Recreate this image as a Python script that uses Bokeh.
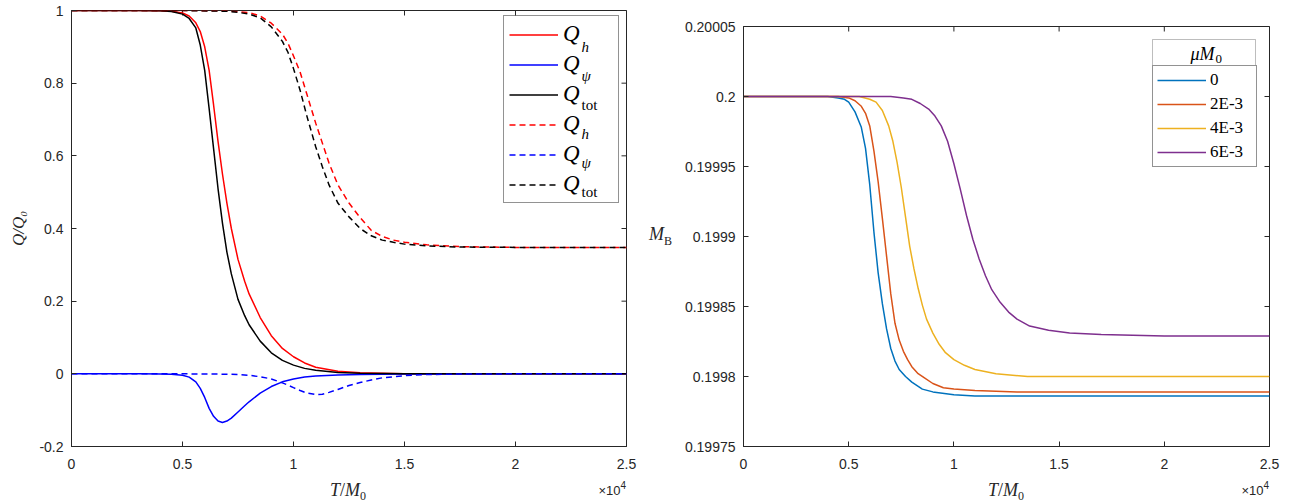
import math
from bokeh.plotting import figure
from bokeh.models import (Range1d, FixedTicker, CustomJSTickFormatter, Legend, LegendItem,
                          Label, BoxAnnotation, Div)
from bokeh.layouts import row, column
from bokeh.embed import file_html
from bokeh.resources import INLINE

# ---------------- data: left panel (Q / Q0 versus T / M0) ----------------
T_solid = [0, 3000, 4000, 4500, 5000, 5300, 5600, 5800, 6000, 6200, 6400, 6600, 6800, 7000,
           7200, 7500, 7800, 8000, 8500, 9000, 9500, 10000, 10500, 11000, 12000, 13000,
           15000, 20000, 25000]
Qh_solid = [1, 1, 0.999, 0.998, 0.993, 0.985, 0.966, 0.942, 0.90, 0.835, 0.74, 0.64, 0.55,
            0.47, 0.40, 0.315, 0.255, 0.22, 0.155, 0.105, 0.07, 0.047, 0.03, 0.018, 0.007,
            0.003, 0.0005, 0, 0]
Qpsi_solid = [0, 0, -0.0005, -0.001, -0.004, -0.009, -0.022, -0.04, -0.065, -0.095, -0.117,
              -0.13, -0.134, -0.13, -0.122, -0.105, -0.088, -0.077, -0.053, -0.035, -0.022,
              -0.014, -0.009, -0.006, -0.003, -0.0015, -0.0004, 0, 0]
Qtot_solid = [1, 1, 0.999, 0.997, 0.99, 0.978, 0.952, 0.905, 0.835, 0.73, 0.62, 0.51, 0.415,
              0.335, 0.275, 0.205, 0.16, 0.135, 0.09, 0.058, 0.037, 0.024, 0.015, 0.01, 0.004,
              0.0015, 0.0003, 0, 0]

T_dash = [0, 5000, 7000, 7500, 8000, 8500, 9000, 9500, 9750, 10000, 10300, 10600, 11000,
          11300, 11600, 12000, 12500, 13000, 13500, 14000, 14500, 15000, 16000, 17500,
          20000, 25000]
Qh_dash = [1, 1, 0.999, 0.997, 0.994, 0.985, 0.965, 0.935, 0.91, 0.875, 0.83, 0.77, 0.69,
           0.635, 0.58, 0.52, 0.47, 0.43, 0.395, 0.378, 0.368, 0.362, 0.355, 0.35, 0.348, 0.348]
Qpsi_dash = [0, 0, -0.001, -0.002, -0.004, -0.008, -0.014, -0.025, -0.031, -0.038, -0.046,
             -0.053, -0.057, -0.056, -0.051, -0.043, -0.032, -0.024, -0.017, -0.011, -0.008,
             -0.005, -0.002, -0.0005, 0, 0]
Qtot_dash = [1, 1, 0.998, 0.995, 0.99, 0.98, 0.955, 0.915, 0.885, 0.84, 0.78, 0.71, 0.625,
             0.57, 0.52, 0.47, 0.432, 0.40, 0.38, 0.368, 0.362, 0.357, 0.352, 0.349, 0.348, 0.348]

# ---------------- data: right panel (M_B versus T / M0) ----------------
T_mu0 = [0, 4000, 4500, 4800, 5000, 5300, 5600, 5800, 6000, 6200, 6400, 6600, 6800, 7000,
         7200, 7400, 7700, 8000, 8500, 9000, 10000, 11000, 13000, 25000]
MB_mu0 = [0.2, 0.2, 0.199999, 0.199998, 0.199996, 0.199989, 0.199978, 0.199963, 0.199937,
          0.199903, 0.199874, 0.199852, 0.199834, 0.19982, 0.199811, 0.199805, 0.1998,
          0.199796, 0.199791, 0.199789, 0.199787, 0.199786, 0.199786, 0.199786]
T_mu2 = [0, 4500, 5000, 5300, 5600, 5800, 6000, 6200, 6400, 6600, 6800, 7000, 7200, 7400,
         7600, 7800, 8000, 8300, 8600, 9000, 9500, 10000, 11000, 13000, 25000]
MB_mu2 = [0.2, 0.2, 0.199999, 0.199997, 0.199993, 0.199988, 0.199979, 0.199961, 0.199939,
          0.199913, 0.199886, 0.199859, 0.199838, 0.199826, 0.199818, 0.199812, 0.199807,
          0.199802, 0.199799, 0.199795, 0.199792, 0.199791, 0.19979, 0.199789, 0.199789]
T_mu4 = [0, 5000, 5500, 6000, 6300, 6600, 6900, 7100, 7300, 7500, 7700, 7900, 8100, 8300,
         8500, 8700, 9000, 9300, 9600, 10000, 10500, 11000, 12000, 13500, 25000]
MB_mu4 = [0.2, 0.2, 0.2, 0.199998, 0.199996, 0.19999, 0.199979, 0.199968, 0.199953,
          0.199935, 0.199914, 0.199893, 0.199877, 0.199863, 0.199851, 0.199841, 0.199831,
          0.199823, 0.199817, 0.199812, 0.199808, 0.199805, 0.199802, 0.1998, 0.1998]
T_mu6 = [0, 7000, 7600, 8000, 8400, 8800, 9100, 9400, 9700, 10000, 10300, 10600, 10900,
         11200, 11500, 11800, 12200, 12600, 13000, 13600, 14500, 15500, 17000, 20000, 25000]
MB_mu6 = [0.2, 0.2, 0.199999, 0.199998, 0.199995, 0.199991, 0.199986, 0.199979, 0.199968,
          0.199952, 0.199934, 0.199915, 0.199898, 0.199884, 0.199872, 0.199862, 0.199853,
          0.199846, 0.199841, 0.199836, 0.199833, 0.199831, 0.19983, 0.199829, 0.199829]
mu_labels = ["0", "2E-3", "4E-3", "6E-3"]
q_subscripts = ["h", "ψ", "tot", "h", "ψ", "tot"]

x_ticks = [0, 5000, 10000, 15000, 20000, 25000]
left_y_ticks = [-0.2, 0, 0.2, 0.4, 0.6, 0.8, 1]
right_y_ticks = [0.19975, 0.1998, 0.19985, 0.1999, 0.19995, 0.2, 0.20005]

AX = "#262626"
SANS = "Liberation Sans"
SERIF = "Liberation Serif"
TICK_SIZE = "14px"
LW = 1.5
DASH = "6 4"


def make_fig(fw, fh, left, right, top, bottom, y0, y1, y_ticks, y_code):
    p = figure(frame_width=fw, frame_height=fh, output_backend="svg", toolbar_location=None,
               x_range=Range1d(0, 25000), y_range=Range1d(y0, y1),
               min_border_left=left, min_border_right=right,
               min_border_top=top, min_border_bottom=bottom,
               background_fill_color="white", border_fill_color="white")
    p.grid.visible = False
    p.outline_line_color = AX
    p.outline_line_width = 1
    xa, ya = p.xaxis[0], p.yaxis[0]
    for ax in (xa, ya):
        ax.axis_line_color = AX
        ax.major_tick_line_color = AX
        ax.minor_tick_line_color = None
        ax.major_tick_in = 5
        ax.major_tick_out = 0
        ax.major_label_text_color = AX
        ax.major_label_text_font = SANS
        ax.major_label_text_font_size = TICK_SIZE
    xa.ticker = FixedTicker(ticks=x_ticks)
    xa.formatter = CustomJSTickFormatter(code="return (tick/10000).toString();")
    xa.major_label_standoff = 12
    ya.ticker = FixedTicker(ticks=y_ticks)
    ya.formatter = CustomJSTickFormatter(code=y_code)
    ya.major_label_standoff = 8
    # mirrored (box style) tick marks on the top and right edges, half clipped by the frame
    p.scatter(x_ticks, [y1] * len(x_ticks), marker="dash", angle=math.pi / 2, size=10,
              line_color=AX, line_width=1)
    p.scatter([25000] * len(y_ticks), y_ticks, marker="dash", size=10,
              line_color=AX, line_width=1)
    return p, xa, ya


# ---------------- left panel ----------------
p1, xa1, ya1 = make_fig(555, 436, 71, 14, 10, 32, -0.2, 1, left_y_ticks,
                        "return parseFloat(tick.toFixed(1)).toString();")
ya1.axis_label = "Q/Q₀"
ya1.axis_label_text_font = SERIF
ya1.axis_label_text_font_style = "italic"
ya1.axis_label_text_font_size = "17px"
ya1.axis_label_text_color = AX
ya1.axis_label_standoff = 8

r1 = p1.line(T_solid, Qh_solid, line_color="#FF0000", line_width=LW)
r2 = p1.line(T_solid, Qpsi_solid, line_color="#0000FF", line_width=LW)
r3 = p1.line(T_solid, Qtot_solid, line_color="#000000", line_width=LW)
r4 = p1.line(T_dash, Qh_dash, line_color="#FF0000", line_width=LW, line_dash=DASH)
r5 = p1.line(T_dash, Qpsi_dash, line_color="#0000FF", line_width=LW, line_dash=DASH)
r6 = p1.line(T_dash, Qtot_dash, line_color="#000000", line_width=LW, line_dash=DASH)

leg1 = Legend(items=[LegendItem(label="Q", renderers=[r]) for r in (r1, r2, r3, r4, r5, r6)],
              location=(432, 243), orientation="vertical", glyph_width=49, glyph_height=25,
              label_height=25, label_width=50, spacing=4, padding=5, margin=0,
              label_standoff=5, label_text_font=SERIF, label_text_font_style="italic",
              label_text_font_size="23px", label_text_color="black",
              label_text_baseline="middle", border_line_color=AX,
              border_line_width=1, background_fill_alpha=0)
p1.add_layout(leg1)

for i, s in enumerate(q_subscripts):
    yc = 446 - (40.5 + 29 * i)
    p1.add_layout(Label(x=510, y=yc - 6, x_units="screen", y_units="screen", text=s,
                        text_font=SERIF,
                        text_font_style="normal" if s == "tot" else "italic",
                        text_font_size="15px", text_baseline="middle", text_color="black",
                        level="overlay"))

# ---------------- right panel ----------------
p2, xa2, ya2 = make_fig(526, 420, 67, 33, 10, 32, 0.19975, 0.20005, right_y_ticks,
                        "return parseFloat(tick.toFixed(5)).toString();")
colors = ["#0072BD", "#D95319", "#EDB120", "#7E2F8E"]
rs = []
for ts, ys, c in zip((T_mu0, T_mu2, T_mu4, T_mu6), (MB_mu0, MB_mu2, MB_mu4, MB_mu6), colors):
    rs.append(p2.line(ts, ys, line_color=c, line_width=LW))

leg2 = Legend(items=[LegendItem(label=l, renderers=[r]) for l, r in zip(mu_labels, rs)],
              location=(409, 279), orientation="vertical", glyph_width=49, glyph_height=20,
              label_height=20, label_width=42, spacing=4, padding=4, margin=0,
              label_standoff=4, label_text_font=SERIF, label_text_font_size="17px",
              label_text_color="black", border_line_color=AX, border_line_width=1,
              background_fill_color="white", background_fill_alpha=1)
p2.add_layout(leg2)
p2.add_layout(BoxAnnotation(left=409, right=512, bottom=379, top=407, left_units="screen",
                            right_units="screen", bottom_units="screen", top_units="screen",
                            fill_color="white", fill_alpha=1, line_color=AX, line_width=1))
p2.add_layout(Label(x=447, y=393, x_units="screen", y_units="screen", text="μM",
                    text_font=SERIF, text_font_style="italic", text_font_size="18px",
                    text_baseline="middle", text_color="black", level="overlay"))
p2.add_layout(Label(x=472, y=388, x_units="screen", y_units="screen", text="0",
                    text_font=SERIF, text_font_size="13px", text_baseline="middle",
                    text_color="black", level="overlay"))

# ---------------- texts outside the frames (HTML) ----------------
div_mb = Div(text=(
    '<div style="position:relative;width:36px;height:478px;">'
    '<span style="position:absolute;left:9px;top:225px;font-family:\'Liberation Serif\';'
    'font-size:18px;color:#262626;white-space:nowrap;line-height:18px;">'
    '<i>M</i><span style="font-size:12px;position:relative;top:5px;">B</span></span></div>'),
    width=36, height=478, margin=0)
top_spacer = Div(text="", width=626, height=16, margin=0)


def bottom_div(width, center_x, right_x):
    return Div(text=(
        f'<div style="position:relative;width:{width}px;height:24px;color:#262626;">'
        f'<span style="position:absolute;left:{center_x - 20}px;top:3px;width:40px;'
        f'text-align:center;font-family:\'Liberation Serif\';font-size:18px;line-height:18px;'
        f'white-space:nowrap;"><i>T</i>/<i>M</i>'
        f'<span style="font-size:12px;position:relative;top:4px;">0</span></span>'
        f'<span style="position:absolute;right:{width - right_x}px;top:6px;'
        f'font-family:\'Liberation Sans\';font-size:13px;line-height:14px;white-space:nowrap;">'
        f'×10<span style="font-size:10px;position:relative;top:-6px;">4</span></span></div>'),
        width=width, height=24, margin=0)


div_bl = bottom_div(640, 348, 626)
div_br = bottom_div(662, 366, 629)

layout = column(row(p1, div_mb, column(top_spacer, p2)), row(div_bl, div_br))
open("out.html", "w").write(file_html(layout, INLINE))
